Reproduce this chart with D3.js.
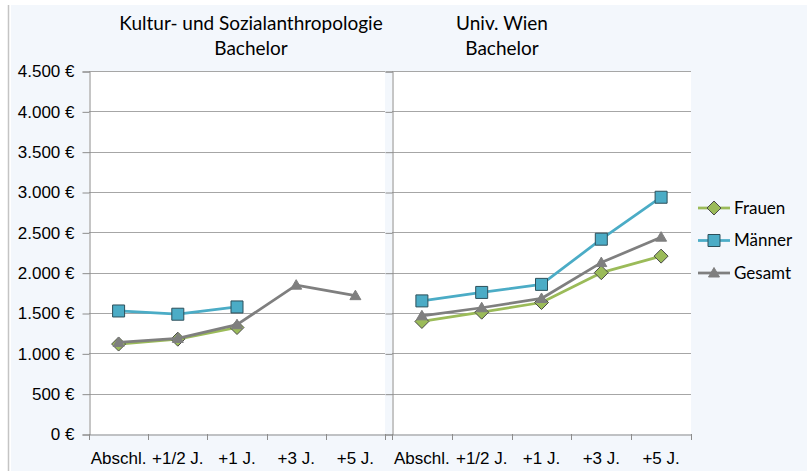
<!DOCTYPE html>
<html>
<head>
<meta charset="utf-8">
<script src="https://cdn.jsdelivr.net/npm/d3@7"></script>
<style>
  body { margin: 0; background: #fff; }
  svg { display: block; font-family: Lato, 'Open Sans', sans-serif; }
  .tick text { font-size: 17px; fill: #000; }
</style>
</head>
<body>
<div id="canvas"></div>
<script>
// ---- DATA ----
var categories = ['Abschl.', '+1/2 J.', '+1 J.', '+3 J.', '+5 J.'];
var yTicks = [0, 500, 1000, 1500, 2000, 2500, 3000, 3500, 4000, 4500];

// Kultur- und Sozialanthropologie, Bachelor
var ksaFrauen  = [1115, 1175, 1320, null, null];
var ksaMaenner = [1525, 1485, 1575, null, null];
var ksaGesamt  = [1135, 1185, 1355, 1845, 1715];

// Univ. Wien, Bachelor
var uwFrauen  = [1395, 1510, 1630, 2000, 2205];
var uwMaenner = [1650, 1755, 1855, 2415, 2935];
var uwGesamt  = [1465, 1565, 1680, 2125, 2440];

var seriesNames = ['Frauen', 'Männer', 'Gesamt'];

// ---- CONVENTIONS ----
var W = 807, H = 471;
var colors = {Frauen: '#9bbb59', 'Männer': '#4bacc6', Gesamt: '#7f7f7f'};
var markerStroke = {Frauen: '#4a4a4a', 'Männer': '#2d4f5a', Gesamt: '#7f7f7f'};

var svg = d3.select('#canvas')
    .append('svg')
    .attr('width', W)
    .attr('height', H);

// chart background
svg.append('rect').attr('x', 0).attr('y', 0).attr('width', W).attr('height', H).attr('fill', '#fff');
svg.append('rect').attr('x', 11).attr('y', 5).attr('width', W - 11).attr('height', H - 5).attr('fill', '#f3f7fc');
svg.append('line').attr('x1', 8.5).attr('x2', 8.5).attr('y1', 5).attr('y2', H)
    .attr('stroke', '#c4c4c4').attr('stroke-width', 1.5);

// ---- SCALES ----
var scaleY = d3.scaleLinear()
    .domain([0, 4500])
    .range([434, 71]);

var panels = [
    {x0: 89, x1: 385, titleX: 251, title: ['Kultur- und Sozialanthropologie', 'Bachelor'], labels: true,
     data: {Frauen: ksaFrauen, 'Männer': ksaMaenner, Gesamt: ksaGesamt}},
    {x0: 392, x1: 691, titleX: 502, title: ['Univ. Wien', 'Bachelor'], labels: false,
     data: {Frauen: uwFrauen, 'Männer': uwMaenner, Gesamt: uwGesamt}}
];

panels.forEach(function(p) {
    var scaleX = d3.scaleBand()
        .domain(categories)
        .range([p.x0, p.x1]);

    var g = svg.append('g');

    // plot area
    g.append('rect')
        .attr('x', p.x0).attr('y', scaleY(4500))
        .attr('width', p.x1 - p.x0).attr('height', scaleY(0) - scaleY(4500))
        .attr('fill', '#fff');

    // grid
    g.selectAll('.grid')
        .data(yTicks.slice(1))
        .enter().append('line')
        .attr('x1', p.x0).attr('x2', p.x1)
        .attr('y1', function(d) { return Math.round(scaleY(d)) + 0.5; })
        .attr('y2', function(d) { return Math.round(scaleY(d)) + 0.5; })
        .attr('stroke', '#a6a6a6').attr('stroke-width', 1);

    // y axis
    var axisY = d3.axisLeft(scaleY)
        .tickValues(yTicks)
        .tickSize(7)
        .tickPadding(8)
        .tickFormat(function(d) { return p.labels ? d3.format(',')(d).replace(/,/g, '.') + ' €' : ''; });
    var ay = g.append('g')
        .attr('transform', 'translate(' + (p.x0 + 0.5) + ',0.5)')
        .call(axisY);
    ay.select('.domain').attr('stroke', '#8c8c8c');
    ay.selectAll('.tick line').attr('stroke', '#8c8c8c');

    // x axis
    var axisX = d3.axisBottom(scaleX)
        .tickSize(0)
        .tickPadding(24);
    var ax = g.append('g')
        .attr('transform', 'translate(0,' + (scaleY(0) + 0.5) + ')')
        .call(axisX);
    ax.select('.domain').attr('stroke', '#8c8c8c');
    ax.selectAll('.tick text').attr('dy', '0.35em');
    // category boundary ticks
    g.selectAll('.xbound')
        .data(d3.range(categories.length + 1))
        .enter().append('line')
        .attr('x1', function(i) { return Math.round(p.x0 + i * scaleX.step()) + 0.5; })
        .attr('x2', function(i) { return Math.round(p.x0 + i * scaleX.step()) + 0.5; })
        .attr('y1', scaleY(0)).attr('y2', scaleY(0) + 6)
        .attr('stroke', '#8c8c8c');

    // title
    var t = g.append('text')
        .attr('x', p.titleX)
        .attr('y', 30)
        .attr('text-anchor', 'middle')
        .style('font-size', '19px');
    t.selectAll('tspan').data(p.title).enter().append('tspan')
        .attr('x', p.titleX)
        .attr('dy', function(d, i) { return i === 0 ? 0 : 25; })
        .text(function(d) { return d; });

    // series
    var lineGen = d3.line()
        .defined(function(d) { return d.v !== null; })
        .x(function(d) { return scaleX(d.c) + scaleX.bandwidth() / 2; })
        .y(function(d) { return scaleY(d.v); });

    seriesNames.forEach(function(name) {
        var pts = p.data[name].map(function(v, i) { return {c: categories[i], v: v}; });
        g.append('path')
            .datum(pts)
            .attr('d', lineGen)
            .attr('fill', 'none')
            .attr('stroke', colors[name])
            .attr('stroke-width', 2.75)
            .attr('stroke-linejoin', 'round');
        g.selectAll('.m-' + name)
            .data(pts.filter(function(d) { return d.v !== null; }))
            .enter().append('path')
            .attr('d', markerPath(name))
            .attr('transform', function(d) {
                return 'translate(' + (scaleX(d.c) + scaleX.bandwidth() / 2) + ',' + scaleY(d.v) + ')';
            })
            .attr('fill', colors[name])
            .attr('stroke', markerStroke[name])
            .attr('stroke-width', 1);
    });
});

// ---- LEGEND ----
var legend = svg.append('g');
seriesNames.forEach(function(name, i) {
    var y = 208 + i * 32.5;
    legend.append('line')
        .attr('x1', 698).attr('x2', 730).attr('y1', y).attr('y2', y)
        .attr('stroke', colors[name]).attr('stroke-width', 2.75);
    legend.append('path')
        .attr('d', markerPath(name))
        .attr('transform', 'translate(714,' + y + ')')
        .attr('fill', colors[name])
        .attr('stroke', markerStroke[name]);
    legend.append('text')
        .attr('x', 734).attr('y', y)
        .attr('dy', '0.35em')
        .style('font-size', '17px')
        .text(name);
});

// ---- MISC FUNCTIONS ----
function markerPath(name) {
    if (name === 'Frauen') return 'M0,-7L7,0L0,7L-7,0Z';
    if (name === 'Männer') return 'M-6,-6H6V6H-6Z';
    return 'M0,-5.5L5.5,4L-5.5,4Z';
}
</script>
</body>
</html>
